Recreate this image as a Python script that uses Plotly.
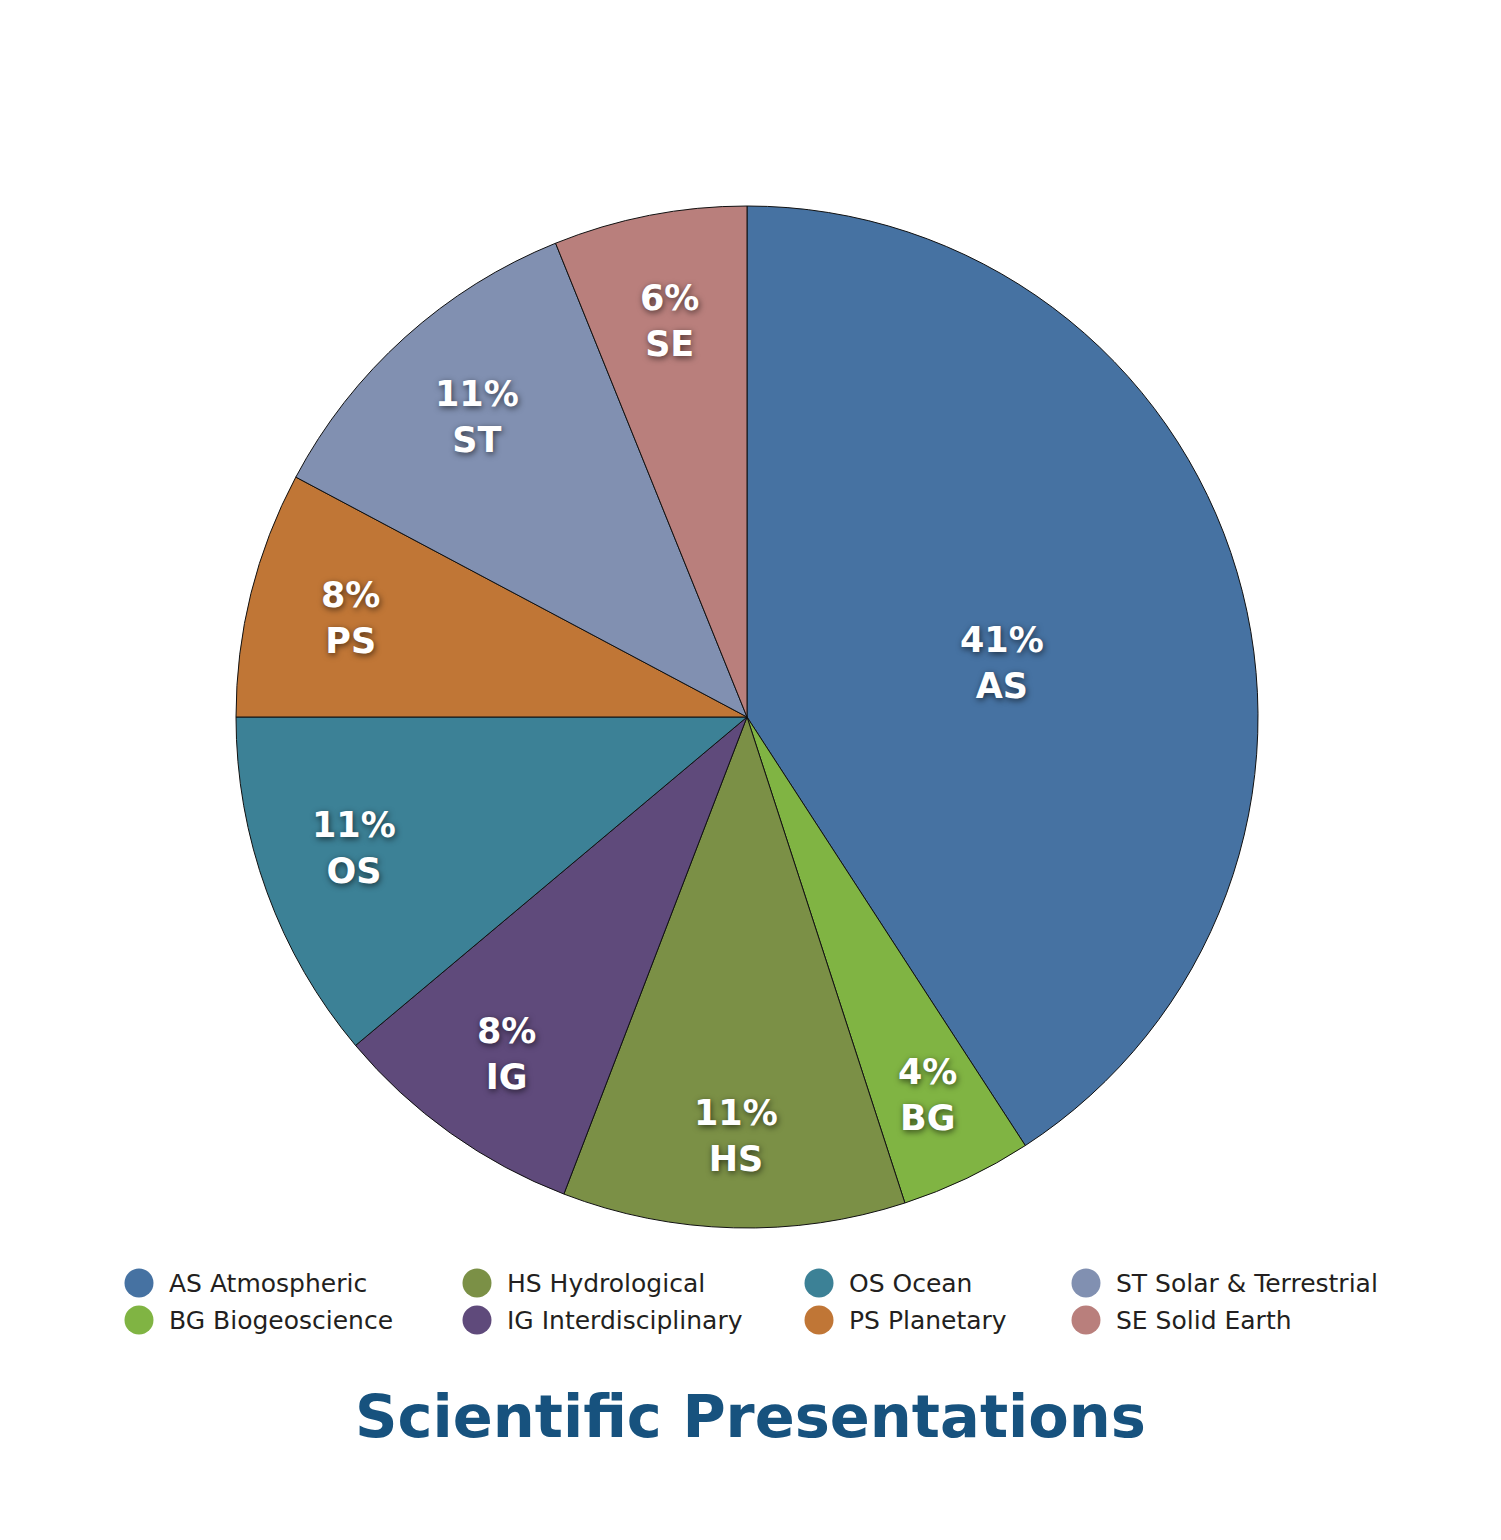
import math
import plotly.graph_objects as go

# slice data (clockwise from 12 o'clock)
codes = ['AS', 'BG', 'HS', 'IG', 'OS', 'PS', 'ST', 'SE']
names = ['Atmospheric', 'Biogeoscience', 'Hydrological', 'Interdisciplinary',
         'Ocean', 'Planetary', 'Solar & Terrestrial', 'Solid Earth']
values = [147, 15, 39, 29, 40, 28, 40, 22]
colors = ['#4672a2', '#80b443', '#7b9046', '#5f4a7b',
          '#3c8196', '#c07636', '#8190b1', '#b97f7c']

FONT = 'DejaVu Sans'
W, H = 1501, 1540
CX, CY, R = 747, 717, 511          # pie centre / radius in px
label_r = [0.51, 0.82, 0.82, 0.81, 0.81, 0.8, 0.79, 0.79]  # label distance as fraction of R
label_shift = [4.5, 0, 0, 0, 1.5, 0, 0, 0]                  # small angle nudges (deg)

fig = go.Figure()

fig.add_trace(go.Pie(
    labels=codes, values=values, sort=False, direction='clockwise', rotation=0,
    marker=dict(colors=colors, line=dict(color='#111111', width=1)),
    textposition='none',
    domain=dict(x=[(CX - R) / W, (CX + R) / W], y=[1 - (CY + R) / H, 1 - (CY - R) / H]),
    showlegend=False, hoverinfo='label+percent',
))

annotations = []

# slice labels placed at mid-angle of each slice (annotations sit above the pie layer)
total = sum(values)
cum = 0
for i, v in enumerate(values):
    mid = (cum + v / 2) / total * 2 * math.pi + math.radians(label_shift[i])
    cum += v
    annotations.append(dict(
        x=CX + label_r[i] * R * math.sin(mid), y=CY - label_r[i] * R * math.cos(mid),
        xref='x', yref='y', text=f'<b>{round(v / total * 100)}%<br>{codes[i]}</b>',
        showarrow=False, xanchor='center', yanchor='middle',
        font=dict(family=FONT, size=35, color='white',
                  shadow='1px 2px 6px rgba(0,0,0,0.6)'),
    ))

# legend built by hand: 4 columns x 2 rows, column-major order
col_x = [139, 477, 819, 1086]
row_y = [1283, 1320]
lx = [col_x[i // 2] for i in range(len(codes))]
ly = [row_y[i % 2] for i in range(len(codes))]

fig.add_trace(go.Scatter(
    x=lx, y=ly, mode='markers',
    marker=dict(size=29, color=colors, line=dict(width=0)),
    showlegend=False, hoverinfo='skip',
))

for i, (c, n) in enumerate(zip(codes, names)):
    annotations.append(dict(
        x=lx[i] + 28, y=ly[i], xref='x', yref='y', text=f'{c} {n}',
        showarrow=False, xanchor='left', yanchor='middle',
        font=dict(family=FONT, size=25, color='#231f20'),
    ))

annotations.append(dict(
    x=750, y=1416, xref='x', yref='y', text='<b>Scientific Presentations</b>',
    showarrow=False, xanchor='center', yanchor='middle',
    font=dict(family=FONT, size=59, color='#17527e'),
))

fig.update_layout(
    width=W, height=H,
    margin=dict(l=0, r=0, t=0, b=0),
    paper_bgcolor='white', plot_bgcolor='rgba(0,0,0,0)',
    xaxis=dict(range=[0, W], visible=False, fixedrange=True),
    yaxis=dict(range=[H, 0], visible=False, fixedrange=True),
    annotations=annotations,
)

fig.write_html('out.html', config={'displayModeBar': False},
               post_script="document.body.style.margin='0';")
